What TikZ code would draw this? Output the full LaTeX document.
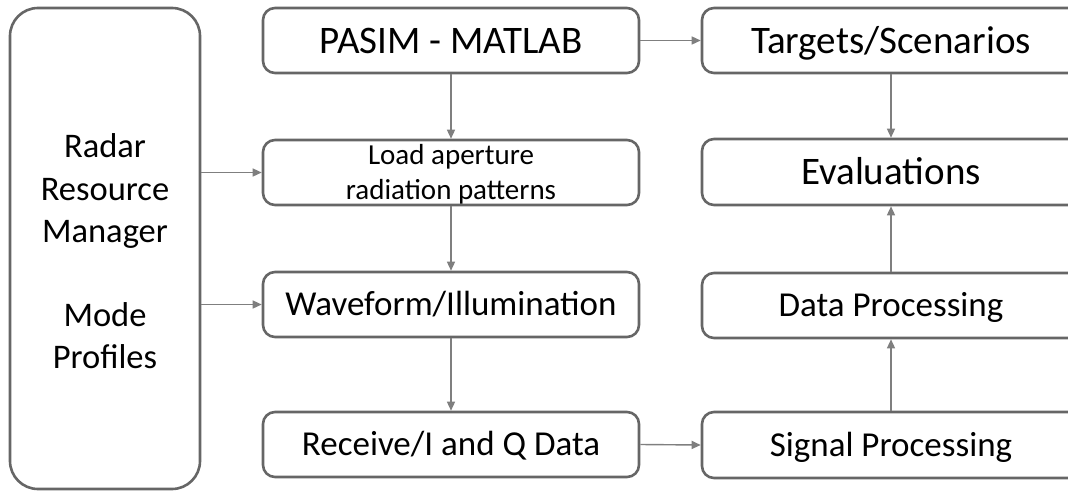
\documentclass[tikz,border=0pt]{standalone}
\usepackage{fontspec}
\setmainfont{Carlito}
\usetikzlibrary{arrows.meta}
\definecolor{boxgray}{HTML}{666666}
\definecolor{arrgray}{HTML}{7F7F7F}
\tikzset{
  box/.style={draw=boxgray, line width=2.6pt, rounded corners=12pt, inner sep=0pt},
  bigtxt/.style={font=\fontsize{39}{44}\selectfont, text height=25pt, text depth=0pt},
  midtxt/.style={font=\fontsize{35}{42}\selectfont, text height=22pt, text depth=0pt},
  smalltxt/.style={font=\fontsize{29}{35}\selectfont, align=center, inner sep=0pt},
  lefttxt/.style={font=\fontsize{34.5}{42.2}\selectfont, align=center, inner sep=0pt},
  arr/.style={draw=arrgray, line width=1.4pt, -{Triangle[length=9pt,width=8pt]}},
}
\begin{document}
\begin{tikzpicture}[x=1pt,y=-1pt]
\useasboundingbox (0,0) rectangle (1068,490);
\clip (0,0) rectangle (1068,490);
\node[box, rounded corners=28pt, minimum width=190pt, minimum height=481pt] (rrm) at (105,248.5) {};
\node[lefttxt] (rrmtxt) at ([yshift=-3pt]rrm.center) {Radar\\Resource\\Manager\\[42.2pt]Mode\\Profiles};
\node[box, bigtxt, minimum width=376pt, minimum height=65pt] (pasim) at (451,40.5) {PASIM - MATLAB};
\node[box, minimum width=376pt, minimum height=65pt] (load) at (451,172.5) {};
\node[smalltxt] (loadtxt) at ([yshift=-2pt]load.center) {Load aperture\\radiation patterns};
\node[box, midtxt, minimum width=376pt, minimum height=65pt] (wave) at (451,304.5) {Waveform/Illumination};
\node[box, midtxt, minimum width=376pt, minimum height=65pt] (recv) at (451,444.5) {Receive/I and Q Data};
\node[box, bigtxt, minimum width=378pt, minimum height=65pt] (targ) at (891,40.5) {Targets/Scenarios};
\node[box, bigtxt, minimum width=378pt, minimum height=66pt] (eval) at (891,172) {Evaluations};
\node[box, midtxt, minimum width=378pt, minimum height=65pt] (data) at (891,305.5) {Data Processing};
\node[box, midtxt, minimum width=378pt, minimum height=66pt] (sig) at (891,445) {Signal Processing};
\draw[arr] (rrm.east |- load.west) -- (load.west);
\draw[arr] (rrm.east |- wave.west) -- (wave.west);
\draw[arr] (pasim.south) -- (load.north);
\draw[arr] (load.south) -- (wave.north);
\draw[arr] (wave.south) -- (recv.north);
\draw[arr] (recv.east) -- (sig.west);
\draw[arr] (pasim.east) -- (targ.west);
\draw[arr] (targ.south) -- (eval.north);
\draw[arr] (sig.north) -- (data.south);
\draw[arr] (data.north) -- (eval.south);
\end{tikzpicture}
\end{document}
